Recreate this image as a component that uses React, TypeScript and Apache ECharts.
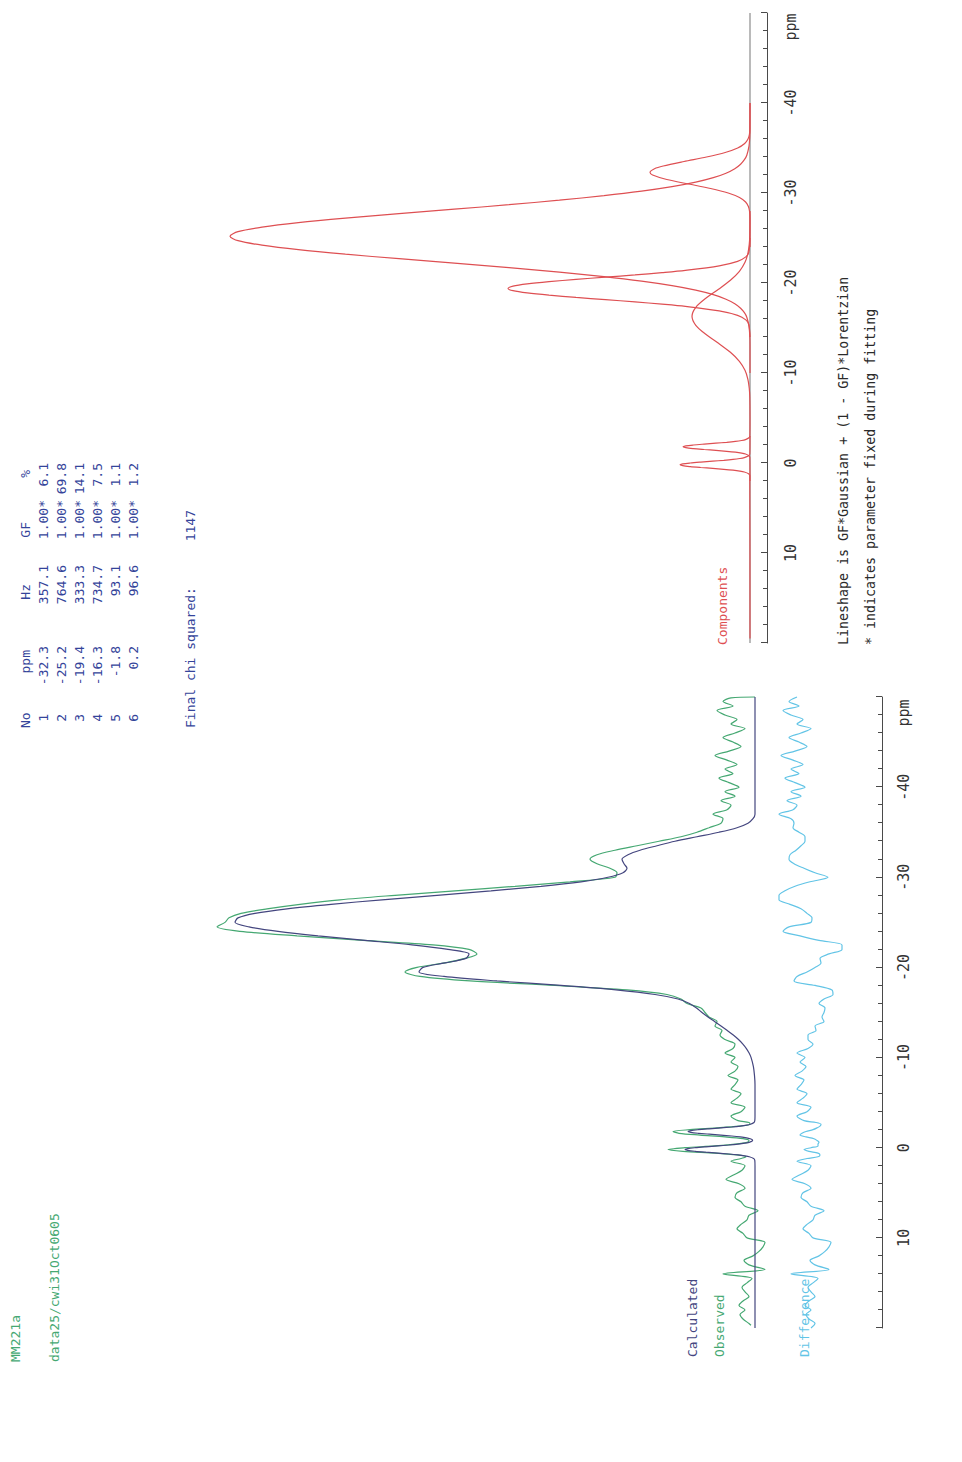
import React, { useEffect, useRef } from "react";
import * as echarts from "echarts";

// ---------- data (ppm, intensity) ----------
const PPM_MIN = -50;
const PPM_MAX = 20;
const PPM_INTERVAL = 10;

const calculated: [number, number][] = [
  [20, 0], [2, 0], [1.4, 0.2], [1.2, 1.4], [1.0, 5.7], [0.9, 10.2], [0.8, 17], [0.7, 26.2], [0.6, 37.3],
  [0.5, 49.2], [0.4, 59.8], [0.3, 67.3], [0.2, 70], [0.1, 67.3], [0, 59.8], [-0.1, 49.2], [-0.2, 37.3],
  [-0.3, 26.2], [-0.4, 17], [-0.5, 10.2], [-0.6, 5.9], [-0.7, 3.5], [-0.8, 2.4], [-0.9, 2.8], [-1.0, 4.7],
  [-1.1, 8.4], [-1.2, 14.6], [-1.3, 23.3], [-1.4, 34.1], [-1.5, 45.8], [-1.6, 56.6], [-1.7, 64.2], [-1.8, 67],
  [-1.9, 64.2], [-2.0, 56.6], [-2.1, 45.8], [-2.2, 34.1], [-2.3, 23.3], [-2.4, 14.6], [-2.5, 8.4], [-2.6, 4.5],
  [-2.8, 1.0], [-3.0, 0.2], [-3.5, 0], [-7, 0], [-8, 0.5], [-9, 1.6], [-10, 3.9], [-10.5, 5.9], [-11, 8.6],
  [-11.5, 12.1], [-12, 16.5], [-12.5, 21.7], [-13, 27.7], [-13.5, 34], [-14, 40.5], [-14.5, 47], [-15, 53],
  [-15.5, 58.5], [-16, 65.5], [-16.5, 77], [-17, 100], [-17.5, 139], [-18, 194], [-18.5, 258], [-19, 311],
  [-19.5, 336], [-20, 332], [-20.5, 310], [-21, 289], [-21.5, 286], [-22, 307], [-22.5, 343], [-23, 390],
  [-23.5, 437], [-24, 477], [-24.5, 506], [-25, 520], [-25.5, 517], [-26, 500], [-26.5, 468], [-27, 424],
  [-27.5, 373], [-28, 318], [-28.5, 264], [-29, 214], [-29.5, 174], [-30, 147], [-30.5, 132], [-31, 128],
  [-31.5, 131], [-32, 133], [-32.5, 127], [-33, 115], [-33.5, 98], [-34, 80], [-34.5, 58], [-35, 36],
  [-35.5, 18], [-36, 7], [-36.5, 2], [-37, 0], [-50, 0],
];

const observed: [number, number][] = [
  [19.7, 4], [19.5, 6], [19, 12], [18.5, 15], [18, 10], [17.5, 16], [17, 12], [16.5, 6], [16, 10], [15.5, 13],
  [15, 8], [14.5, 3], [14, 32], [13.5, -10], [13, 6], [12.5, 11], [12, 2], [11.5, -4], [11, -8], [10.5, -10],
  [10, 8], [9.5, 12], [9, 18], [8.5, 14], [8, 8], [7.5, 6], [7, -3], [6.5, 10], [6, 14], [5.5, 20], [5, 18],
  [4.5, 10], [4, 16], [3.5, 29], [3, 21], [2.5, 13], [2, 10], [1.5, 24], [1.2, 14], [1.0, 9], [0.8, 18],
  [0.6, 40], [0.4, 72], [0.2, 87], [0, 70], [-0.2, 40], [-0.4, 20], [-0.6, 8], [-0.8, 6], [-1, 12], [-1.2, 30],
  [-1.4, 55], [-1.6, 76], [-1.8, 82], [-2, 65], [-2.2, 38], [-2.4, 16], [-2.6, 5], [-2.8, 6], [-3, 17],
  [-3.5, 24], [-4, 14], [-4.5, 10], [-5, 24], [-5.5, 18], [-6, 14], [-6.5, 24], [-7, 20], [-7.5, 17], [-8, 27],
  [-8.5, 20], [-9, 17], [-9.5, 24], [-10, 20], [-10.5, 30], [-11, 22], [-11.5, 20], [-12, 30], [-12.5, 35],
  [-13, 33], [-13.5, 40], [-14, 38], [-14.5, 46], [-15, 50], [-15.5, 54], [-16, 68], [-16.5, 74], [-17, 88],
  [-17.5, 128], [-18, 200], [-18.5, 285], [-19, 335], [-19.5, 350], [-20, 338], [-20.5, 310], [-21, 290],
  [-21.5, 278], [-22, 286], [-22.5, 322], [-23, 392], [-23.5, 458], [-24, 515], [-24.5, 538], [-25, 530],
  [-25.5, 526], [-26, 514], [-26.5, 488], [-27, 455], [-27.5, 415], [-28, 360], [-28.5, 300], [-29, 240],
  [-29.5, 185], [-30, 140], [-30.5, 138], [-31, 145], [-31.5, 158], [-32, 165], [-32.5, 158], [-33, 140],
  [-33.5, 118], [-34, 96], [-34.5, 74], [-35, 58], [-35.5, 46], [-36, 34], [-36.5, 32], [-37, 42], [-37.5, 28],
  [-38, 24], [-38.5, 34], [-39, 20], [-39.5, 30], [-40, 16], [-40.5, 26], [-41, 36], [-41.5, 22], [-42, 30],
  [-42.5, 18], [-43, 28], [-43.5, 40], [-44, 26], [-44.5, 14], [-45, 22], [-45.5, 32], [-46, 20], [-46.5, 10],
  [-47, 24], [-47.5, 18], [-48, 30], [-48.5, 38], [-49, 22], [-49.5, 32], [-49.9, 24], [-50, 0],
];

const difference: [number, number][] = [
  [20, 10], [19.5, 6], [19, 12], [18.5, 15], [18, 10], [17.5, 16], [17, 12], [16.5, 6], [16, 10], [15.5, 13],
  [15, 8], [14.5, 3], [14, 30], [13.5, -8], [13, 6], [12.5, 11], [12, 2], [11.5, -4], [11, -8], [10.5, -10],
  [10, 8], [9.5, 12], [9, 18], [8.5, 14], [8, 8], [7.5, 6], [7, -3], [6.5, 10], [6, 14], [5.5, 20], [5, 18],
  [4.5, 10], [4, 16], [3.5, 29], [3, 21], [2.5, 13], [2, 10], [1.5, 24], [1.2, 14], [1.0, 3], [0.8, 1],
  [0.6, 3], [0.4, 12], [0.2, 17], [0, 10], [-0.2, 3], [-0.4, 3], [-0.6, 2], [-0.8, 4], [-1.0, 7], [-1.2, 15],
  [-1.4, 21], [-1.6, 19], [-1.8, 15], [-2.0, 8], [-2.2, 4], [-2.4, 1], [-2.6, 0], [-2.8, 5], [-3, 17],
  [-3.5, 24], [-4, 14], [-4.5, 10], [-5, 24], [-5.5, 18], [-6, 14], [-6.5, 24], [-7, 20], [-7.5, 17], [-8, 26],
  [-8.5, 19], [-9, 15], [-9.5, 21], [-10, 16], [-10.5, 24], [-11, 13], [-11.5, 8], [-12, 13], [-12.5, 13],
  [-13, 5], [-13.5, 6], [-14, -3], [-14.5, -1], [-15, -3], [-15.5, -4], [-16, 2], [-16.5, -3], [-17, -12],
  [-17.5, -11], [-18, 6], [-18.5, 27], [-19, 24], [-19.5, 14], [-20, 6], [-20.5, 0], [-21, 1], [-21.5, -8],
  [-22, -21], [-22.5, -21], [-23, 2], [-23.5, 21], [-24, 38], [-24.5, 32], [-25, 10], [-25.5, 9], [-26, 14],
  [-26.5, 20], [-27, 31], [-27.5, 42], [-28, 42], [-28.5, 36], [-29, 26], [-29.5, 11], [-30, -7], [-30.5, 6],
  [-31, 17], [-31.5, 27], [-32, 32], [-32.5, 31], [-33, 25], [-33.5, 20], [-34, 16], [-34.5, 16], [-35, 22],
  [-35.5, 28], [-36, 27], [-36.5, 30], [-37, 42], [-37.5, 28], [-38, 24], [-38.5, 34], [-39, 20], [-39.5, 30],
  [-40, 16], [-40.5, 26], [-41, 36], [-41.5, 22], [-42, 30], [-42.5, 18], [-43, 28], [-43.5, 40], [-44, 26],
  [-44.5, 14], [-45, 22], [-45.5, 32], [-46, 20], [-46.5, 10], [-47, 24], [-47.5, 18], [-48, 30], [-48.5, 38],
  [-49, 22], [-49.5, 32], [-50, 24],
];

const component1: [number, number][] = [
  [-40, 0], [-37, 0.2], [-36.5, 0.6], [-36, 2], [-35.5, 5.3], [-35, 12.3], [-34.5, 24.8], [-34, 43.5],
  [-33.5, 66], [-33, 86.8], [-32.7, 95.5], [-32.3, 100], [-32, 97.4], [-31.5, 83.2], [-31, 61.5], [-30.5, 39.4],
  [-30, 21.8], [-29.5, 10.5], [-29, 4.4], [-28.5, 1.6], [-28, 0.5], [-27, 0], [-24, 0],
];
const component2: [number, number][] = [
  [-40, 0], [-37.2, 0], [-36.2, 0.25], [-35.2, 1], [-34.2, 3.2], [-33.7, 5.6], [-33.2, 9.4], [-32.7, 15.2],
  [-32.2, 24], [-31.7, 36.7], [-31.2, 54.3], [-30.7, 78], [-30.2, 108.4], [-29.7, 146], [-29.2, 190.6],
  [-28.7, 241], [-28.2, 295.7], [-27.7, 351], [-27.2, 404.6], [-26.7, 451.6], [-26.2, 488], [-25.7, 512],
  [-25.2, 520], [-24.7, 512], [-24.2, 488], [-23.7, 451.6], [-23.2, 404.6], [-22.7, 351], [-22.2, 295.7],
  [-21.7, 241], [-21.2, 190.6], [-20.7, 146], [-20.2, 108.4], [-19.7, 78], [-19.2, 54.3], [-18.7, 36.7],
  [-18.2, 24], [-17.7, 15.2], [-17.2, 9.4], [-16.7, 5.6], [-16.2, 3.2], [-15.2, 1], [-14.2, 0.25], [-13.2, 0],
  [-10, 0],
];
const component3: [number, number][] = [
  [-25, 0], [-23.4, 1.2], [-22.9, 4.2], [-22.4, 12.4], [-21.9, 30.8], [-21.4, 64.6], [-21.15, 88], [-20.9, 115],
  [-20.65, 144.5], [-20.4, 174], [-20.15, 201], [-19.9, 222.8], [-19.65, 237], [-19.4, 242], [-19.15, 237],
  [-18.9, 222.8], [-18.65, 201], [-18.4, 174], [-18.15, 144.5], [-17.9, 115], [-17.65, 88], [-17.4, 64.6],
  [-16.9, 30.8], [-16.4, 12.4], [-15.9, 4.2], [-15.4, 1.2], [-14, 0],
];
const component4: [number, number][] = [
  [-28, 0], [-25.3, 0.2], [-24.3, 0.75], [-23.3, 2.1], [-22.3, 5], [-21.3, 10.6], [-20.3, 19.6], [-19.3, 31.5],
  [-18.3, 44.2], [-17.3, 54.2], [-16.3, 58], [-15.3, 54.2], [-14.3, 44.2], [-13.3, 31.5], [-12.3, 19.6],
  [-11.3, 10.6], [-10.3, 5], [-9.3, 2.1], [-8.3, 0.75], [-7.3, 0.2], [-5, 0],
];
const component5: [number, number][] = [
  [-5, 0], [-3.0, 0.15], [-2.8, 1.0], [-2.6, 4.5], [-2.5, 8.4], [-2.4, 14.6], [-2.3, 23.3], [-2.2, 34.1],
  [-2.1, 45.8], [-2.0, 56.6], [-1.9, 64.2], [-1.8, 67], [-1.7, 64.2], [-1.6, 56.6], [-1.5, 45.8], [-1.4, 34.1],
  [-1.3, 23.3], [-1.2, 14.6], [-1.1, 8.4], [-1.0, 4.5], [-0.8, 1.0], [-0.6, 0.15], [2, 0],
];
const component6: [number, number][] = [
  [-3, 0], [-1, 0.2], [-0.8, 1.4], [-0.6, 5.7], [-0.5, 10.2], [-0.4, 17], [-0.3, 26.2], [-0.2, 37.3],
  [-0.1, 49.2], [0, 59.8], [0.1, 67.3], [0.2, 70], [0.3, 67.3], [0.4, 59.8], [0.5, 49.2], [0.6, 37.3],
  [0.7, 26.2], [0.8, 17], [0.9, 10.2], [1.0, 5.7], [1.2, 1.4], [1.4, 0.2], [19.5, 0],
];
const componentBaseline: [number, number][] = [[-50, 0], [20, 0]];

const tableHeaders = ["No", "ppm", "Hz", "GF", "%"];
const tableNo = ["1", "2", "3", "4", "5", "6"];
const tablePpm = ["-32.3", "-25.2", "-19.4", "-16.3", "-1.8", "0.2"];
const tableHz = ["357.1", "764.6", "333.3", "734.7", "93.1", "96.6"];
const tableGF = ["1.00*", "1.00*", "1.00*", "1.00*", "1.00*", "1.00*"];
const tablePct = ["6.1", "69.8", "14.1", "7.5", "1.1", "1.2"];
const chiSquaredLabel = "Final chi squared:";
const chiSquaredValue = "1147";

// ---------- styling ----------
const MONO = '"DejaVu Sans Mono", "Liberation Mono", monospace';
const C_CALC = "#44467f";
const C_OBS = "#45a872";
const C_DIFF = "#62c4e6";
const C_COMP = "#de4f52";
const C_TABLE = "#34449a";
const C_AXIS = "#4a4a4a";
const DIFF_OFFSET = -66;

function ppmAxis(gridIndex: number, margin: number) {
  return {
    type: "value",
    gridIndex,
    min: PPM_MIN,
    max: PPM_MAX,
    interval: PPM_INTERVAL,
    inverse: true,
    axisLine: { show: true, onZero: false, lineStyle: { color: C_AXIS, width: 1 } },
    axisTick: { show: true, inside: true, length: 6, lineStyle: { color: C_AXIS, width: 1 } },
    minorTick: { show: true, splitNumber: 5, length: 4, lineStyle: { color: C_AXIS, width: 1 } },
    splitLine: { show: false },
    minorSplitLine: { show: false },
    axisLabel: {
      show: true,
      margin,
      color: "#333",
      fontFamily: MONO,
      fontSize: 15,
      formatter: (v: number) => (v <= PPM_MIN || v >= PPM_MAX ? "" : String(v)),
    },
  };
}

function txt(x: number, y: number, text: string, color: string, align = "left", size = 13) {
  return {
    type: "text",
    x,
    y,
    silent: true,
    style: {
      text,
      fill: color,
      fontFamily: MONO,
      fontSize: size,
      align,
      verticalAlign: "middle",
      textAlign: align,
      textVerticalAlign: "middle",
    },
  };
}

function line(data: [number, number][], color: string, axisIndex: number, z: number, smooth = 0.3) {
  return {
    type: "line",
    xAxisIndex: axisIndex,
    yAxisIndex: axisIndex,
    data,
    showSymbol: false,
    symbol: "none",
    smooth,
    silent: true,
    z,
    lineStyle: { color, width: 1.2 },
  };
}

function buildOption() {
  const rowsY = [43, 61, 79, 97, 115, 133];
  const graphics: any[] = [
    txt(100, 15, "MM221a", C_OBS),
    txt(100, 54, "data25/cwi31Oct0605", C_OBS),
    // table header
    txt(734, 25, tableHeaders[0], C_TABLE),
    txt(812, 25, tableHeaders[1], C_TABLE, "right"),
    txt(878, 25, tableHeaders[2], C_TABLE, "right"),
    txt(940, 25, tableHeaders[3], C_TABLE, "right"),
    txt(992, 25, tableHeaders[4], C_TABLE, "right"),
    txt(734, 190, chiSquaredLabel, C_TABLE),
    txt(952, 190, chiSquaredValue, C_TABLE, "right"),
    txt(817, 722, "Components", C_COMP),
    txt(817, 843, "Lineshape is GF*Gaussian + (1 - GF)*Lorentzian", "#2a2a2a", "left", 13.3),
    txt(817, 870, "* indicates parameter fixed during fitting", "#2a2a2a", "left", 13.3),
    txt(105, 692, "Calculated", C_CALC),
    txt(105, 719, "Observed", C_OBS),
    txt(105, 804, "Difference", C_DIFF),
    txt(749, 904, "ppm", "#333", "center", 15),
    txt(1435, 791, "ppm", "#333", "center", 15),
  ];
  rowsY.forEach((y, i) => {
    graphics.push(txt(748, y, tableNo[i], C_TABLE, "right"));
    graphics.push(txt(816, y, tablePpm[i], C_TABLE, "right"));
    graphics.push(txt(897, y, tableHz[i], C_TABLE, "right"));
    graphics.push(txt(962, y, tableGF[i], C_TABLE, "right"));
    graphics.push(txt(999, y, tablePct[i], C_TABLE, "right"));
  });

  return {
    animation: false,
    backgroundColor: "#ffffff",
    grid: [
      { left: 134, width: 631, top: 200, height: 682 },
      { left: 819, width: 630, top: 200, height: 567 },
    ],
    xAxis: [ppmAxis(0, 14), ppmAxis(1, 16)],
    yAxis: [
      { type: "value", gridIndex: 0, min: -127, max: 555, show: false },
      { type: "value", gridIndex: 1, min: -17, max: 550, show: false },
    ],
    series: [
      line(difference.map(([p, v]) => [p, v + DIFF_OFFSET] as [number, number]), C_DIFF, 0, 2),
      line(observed, C_OBS, 0, 3),
      line(calculated, C_CALC, 0, 4),
      line(componentBaseline, "#8c8c8c", 1, 2, 0),
      line(component1, C_COMP, 1, 3),
      line(component2, C_COMP, 1, 3),
      line(component3, C_COMP, 1, 3),
      line(component4, C_COMP, 1, 3),
      line(component5, C_COMP, 1, 3),
      line(component6, C_COMP, 1, 3),
    ],
    graphic: { elements: graphics },
  };
}

export default function App() {
  const ref = useRef<HTMLDivElement>(null);
  useEffect(() => {
    if (!ref.current) return;
    const chart = echarts.init(ref.current, null, { renderer: "svg" });
    chart.setOption(buildOption() as any);
    return () => chart.dispose();
  }, []);
  return (
    <div
      style={{
        position: "absolute",
        left: 0,
        top: 0,
        width: 962,
        height: 1462,
        overflow: "hidden",
        background: "#ffffff",
      }}
    >
      <div
        ref={ref}
        style={{
          width: 1462,
          height: 962,
          transformOrigin: "0 0",
          transform: "translate(0px, 1462px) rotate(-90deg)",
        }}
      />
    </div>
  );
}
